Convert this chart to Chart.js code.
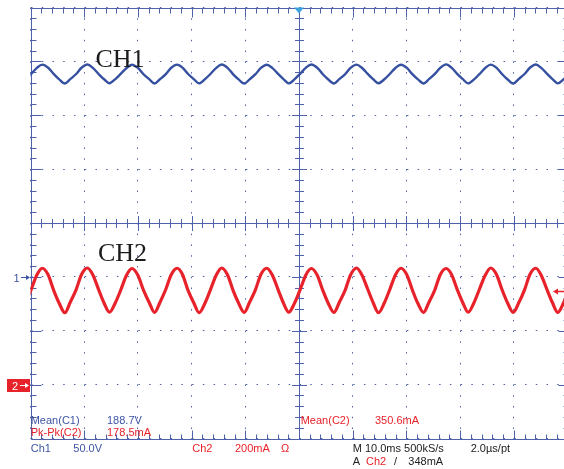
<!DOCTYPE html>
<html>
<head>
<meta charset="utf-8">
<script src="https://cdn.jsdelivr.net/npm/chart.js@4"></script>
<style>
  html, body { margin: 0; padding: 0; background: #fff; overflow: hidden; }
  #wrap { position: relative; width: 570px; height: 469px; }
</style>
</head>
<body>
<div id="wrap"><canvas id="scope" width="570" height="469"></canvas></div>
<script>
// time, ms (10 ms/div, 10 div)
const timeMs = [
  -2.0, -0.9, 0.1, 1.2, 2.2, 3.3, 4.3, 5.3,
  6.4, 7.4, 8.5, 9.5, 10.6, 11.6, 12.7, 13.7,
  14.7, 15.8, 16.8, 17.9, 18.9, 20.0, 21.0, 22.1,
  23.1, 24.1, 25.2, 26.2, 27.3, 28.3, 29.3, 30.4,
  31.4, 32.5, 33.5, 34.6, 35.6, 36.7, 37.7, 38.7,
  39.8, 40.8, 41.9, 42.9, 44.0, 45.0, 46.1, 47.1,
  48.1, 49.2, 50.2, 51.3, 52.3, 53.4, 54.4, 55.4,
  56.5, 57.5, 58.6, 59.6, 60.7, 61.7, 62.8, 63.8,
  64.8, 65.9, 66.9, 68.0, 69.0, 70.1, 71.1, 72.1,
  73.2, 74.2, 75.3, 76.3, 77.4, 78.4, 79.5, 80.5,
  81.5, 82.6, 83.6, 84.7, 85.7, 86.8, 87.8, 88.8,
  89.9, 90.9, 92.0, 93.0, 94.1, 95.1, 96.2, 97.2,
  98.2, 99.3, 100.3
];

// Ch1 voltage, V (50 V/div)
const ch1Volts = [
  179.6, 183.4, 188.2, 194.0, 197.0, 194.1, 188.4, 183.6,
  179.5, 183.5, 188.3, 194.1, 197.1, 194.0, 188.2, 183.4,
  179.7, 183.6, 188.4, 193.9, 196.9, 193.9, 188.3, 183.5,
  179.5, 183.4, 188.2, 194.1, 197.0, 194.2, 188.5, 183.6,
  179.6, 183.5, 188.3, 194.0, 197.1, 194.0, 188.2, 183.5,
  179.4, 183.3, 188.1, 193.9, 196.9, 194.0, 188.4, 183.6,
  179.6, 183.6, 188.4, 194.2, 197.1, 194.1, 188.3, 183.4,
  179.5, 183.5, 188.2, 194.0, 197.0, 194.1, 188.4, 183.5,
  179.7, 183.4, 188.3, 194.1, 196.9, 193.9, 188.2, 183.6,
  179.5, 183.5, 188.4, 194.0, 197.2, 194.2, 188.1, 183.5,
  179.6, 183.3, 188.2, 193.9, 197.0, 194.0, 188.3, 183.4,
  179.4, 183.6, 188.3, 194.1, 197.1, 194.0, 188.4, 183.6,
  179.6, 183.5, 188.2
];

// Ch2 current, mA (200 mA/div)
const ch2mA = [
  268, 305, 352, 408, 432, 407, 351, 304,
  267, 306, 353, 409, 433, 408, 352, 303,
  269, 304, 351, 407, 431, 406, 353, 305,
  268, 305, 354, 408, 432, 409, 352, 304,
  267, 303, 352, 407, 433, 407, 351, 305,
  268, 306, 353, 409, 432, 408, 353, 303,
  269, 304, 352, 408, 431, 406, 352, 304,
  268, 305, 351, 407, 433, 408, 354, 305,
  267, 304, 353, 409, 432, 407, 352, 303,
  268, 306, 352, 408, 431, 409, 351, 304,
  269, 305, 354, 407, 433, 408, 353, 305,
  268, 303, 352, 409, 432, 406, 352, 304,
  268, 305, 352
];

const trigLevel_mA = 348;

const GRID = '#4f61aa';
const BLUE = '#3d54a4';
const TRACE1 = '#3550a0';
const RED = '#e8222a';
const INK = '#222';

// scope readout text: [text, x, baseline y, colour]
const readouts = [
  ['Mean(C1)', 30.7, 423.5, BLUE],
  ['188.7V', 107, 423.5, BLUE],
  ['Pk-Pk(C2)', 30.7, 436, RED],
  ['178.5mA', 107, 436, RED],
  ['Mean(C2)', 300.7, 423.5, RED],
  ['350.6mA', 375, 423.5, RED],
  ['Ch1', 30.7, 452, BLUE],
  ['50.0V', 73.3, 452, BLUE],
  ['Ch2', 192.3, 452, RED],
  ['200mA', 235, 452, RED],
  ['\u03A9', 281, 452, RED],
  ['M 10.0ms 500kS/s', 352.7, 452, INK],
  ['2.0\u00B5s/pt', 470.7, 452, INK],
  ['A', 352.7, 464.5, INK],
  ['Ch2', 366, 464.5, RED],
  ['/', 394, 464.5, INK],
  ['348mA', 408.3, 464.5, INK]
];

const scopeFrame = {
  id: 'scopeFrame',
  beforeDatasetsDraw(chart) {
    const {ctx, scales: {x, y}} = chart;
    const px = v => Math.round(x.getPixelForValue(v)) + 0.5;
    const py = v => Math.round(y.getPixelForValue(v)) + 0.5;
    const cx = px(50), cy = py(50);
    const L = px(0), R = px(100), T = py(250), B = py(-150);
    ctx.save();
    ctx.strokeStyle = GRID;
    ctx.lineWidth = 1;
    ctx.beginPath();
    // frame and centre cross
    ctx.moveTo(L, T); ctx.lineTo(R, T); ctx.lineTo(R, B); ctx.lineTo(L, B); ctx.closePath();
    ctx.moveTo(L, cy); ctx.lineTo(R, cy);
    ctx.moveTo(cx, T); ctx.lineTo(cx, B);
    for (let t = 0; t <= 100; t += 2) {
      const p = px(t);
      const major = t % 10 === 0;
      const len = major ? 9 : 5;
      ctx.moveTo(p, T); ctx.lineTo(p, T + len);
      ctx.moveTo(p, B); ctx.lineTo(p, B - len);
      const c = major ? 7.5 : 4.5;
      ctx.moveTo(p, cy - c); ctx.lineTo(p, cy + c);
    }
    for (let v = -150; v <= 250; v += 10) {
      const p = py(v);
      const major = v % 50 === 0;
      const len = major ? 10 : 5;
      ctx.moveTo(L, p); ctx.lineTo(L + len, p);
      ctx.moveTo(R, p); ctx.lineTo(R - len, p);
      const c = major ? 7.5 : 4.5;
      ctx.moveTo(cx - c, p); ctx.lineTo(cx + c, p);
    }
    ctx.stroke();
    ctx.restore();
  },
  afterDraw(chart) {
    const {ctx, scales: {x, y, y2}} = chart;
    ctx.save();
    // trigger position marker
    const tx = x.getPixelForValue(50), top = y.getPixelForValue(250);
    ctx.fillStyle = '#3aa2dd';
    ctx.beginPath();
    ctx.moveTo(tx - 5, top); ctx.lineTo(tx + 5, top); ctx.lineTo(tx, top + 6); ctx.closePath();
    ctx.fill();

    // Ch1 ground marker
    const g1 = Math.round(y.getPixelForValue(0)) + 0.5;
    ctx.font = '11px "Liberation Sans", Arial, sans-serif';
    ctx.fillStyle = BLUE;
    ctx.fillText('1', 13.5, g1 + 4);
    ctx.strokeStyle = BLUE;
    ctx.lineWidth = 1;
    ctx.beginPath(); ctx.moveTo(21, g1); ctx.lineTo(29, g1); ctx.stroke();
    ctx.beginPath(); ctx.moveTo(30, g1); ctx.lineTo(26, g1 - 2.5); ctx.lineTo(26, g1 + 2.5); ctx.closePath(); ctx.fill();

    // Ch2 ground marker
    const g2 = Math.round(y2.getPixelForValue(0)) + 0.5;
    ctx.fillStyle = RED;
    ctx.fillRect(7, g2 - 6.5, 23, 13);
    ctx.fillStyle = '#fff';
    ctx.fillText('2', 12, g2 + 4);
    ctx.strokeStyle = '#fff';
    ctx.beginPath(); ctx.moveTo(20, g2); ctx.lineTo(27, g2); ctx.stroke();
    ctx.beginPath(); ctx.moveTo(29, g2); ctx.lineTo(25, g2 - 2.5); ctx.lineTo(25, g2 + 2.5); ctx.closePath(); ctx.fill();

    // trigger level marker
    const tl = Math.round(y2.getPixelForValue(trigLevel_mA)) + 0.5;
    ctx.strokeStyle = RED; ctx.fillStyle = RED;
    ctx.lineWidth = 1.5;
    ctx.beginPath(); ctx.moveTo(556, tl); ctx.lineTo(566, tl); ctx.stroke();
    ctx.beginPath(); ctx.moveTo(553, tl); ctx.lineTo(558, tl - 3); ctx.lineTo(558, tl + 3); ctx.closePath(); ctx.fill();

    // channel captions
    ctx.font = '26px "Liberation Serif", "Times New Roman", serif';
    ctx.fillStyle = '#1c1c1c';
    ctx.fillText('CH1', 95.5, 67);
    ctx.fillText('CH2', 98, 261);

    // readouts
    ctx.font = '11px "Liberation Sans", Arial, sans-serif';
    readouts.forEach(([txt, rx, ry, col]) => {
      ctx.fillStyle = col;
      ctx.fillText(txt, rx, ry);
    });
    ctx.restore();
  }
};

const ch1Points = timeMs.map((t, i) => ({x: t, y: ch1Volts[i]}));
const ch2Points = timeMs.map((t, i) => ({x: t, y: ch2mA[i]}));

new Chart(document.getElementById('scope'), {
  type: 'line',
  data: {
    datasets: [
      {label: 'Ch1', data: ch1Points, yAxisID: 'y', borderColor: TRACE1, borderWidth: 2.4, pointRadius: 0, cubicInterpolationMode: 'monotone'},
      {label: 'Ch2', data: ch2Points, yAxisID: 'y2', borderColor: RED, borderWidth: 3.2, pointRadius: 0, cubicInterpolationMode: 'monotone'}
    ]
  },
  options: {
    responsive: false,
    devicePixelRatio: 1,
    animation: false,
    events: [],
    layout: {padding: {left: 30.5, top: 7.5, right: 2.5, bottom: 30.5}},
    plugins: {legend: {display: false}, tooltip: {enabled: false}},
    scales: {
      x: {
        type: 'linear', min: 0, max: 100,
        ticks: {display: false, stepSize: 10},
        grid: {color: GRID, lineWidth: 1, drawTicks: false},
        border: {display: false, dash: [1.5, 9.27]}
      },
      y: {
        min: -150, max: 250,
        ticks: {display: false, stepSize: 50},
        grid: {color: GRID, lineWidth: 1, drawTicks: false},
        border: {display: false, dash: [1.5, 9.24]}
      },
      y2: {
        display: false, position: 'right',
        min: -200, max: 1400
      }
    }
  },
  plugins: [scopeFrame]
});
</script>
</body>
</html>
